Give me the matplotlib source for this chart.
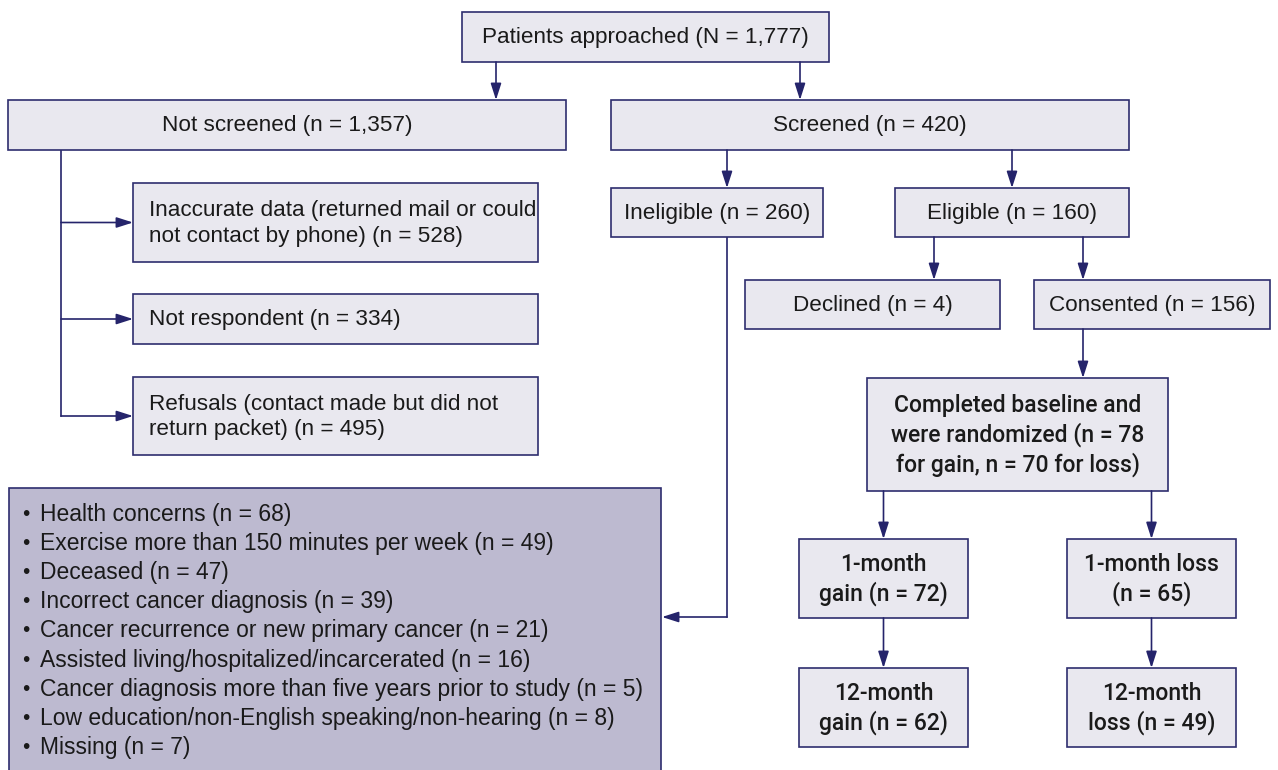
import matplotlib.pyplot as plt
from matplotlib.patches import Rectangle

# 상자 안 텍스트
top_label = "Patients approached (N = 1,777)"
level1_labels = ["Not screened (n = 1,357)", "Screened (n = 420)"]
not_screened_labels = ["Inaccurate data (returned mail or could\nnot contact by phone) (n = 528)",
                       "Not respondent (n = 334)",
                       "Refusals (contact made but did not\nreturn packet) (n = 495)"]
screen_labels = ["Ineligible (n = 260)", "Eligible (n = 160)"]
eligible_labels = ["Declined (n = 4)", "Consented (n = 156)"]
random_label = "Completed baseline and\nwere randomized (n = 78\nfor gain, n = 70 for loss)"
month1_labels = ["1-month\ngain (n = 72)", "1-month loss\n(n = 65)"]
month12_labels = ["12-month\ngain (n = 62)", "12-month\nloss (n = 49)"]
reasons = ["Health concerns", "Exercise more than 150 minutes per week", "Deceased",
           "Incorrect cancer diagnosis", "Cancer recurrence or new primary cancer",
           "Assisted living/hospitalized/incarcerated",
           "Cancer diagnosis more than five years prior to study",
           "Low education/non-English speaking/non-hearing", "Missing"]
reason_n = [68, 49, 47, 39, 21, 16, 5, 8, 7]

FILL = '#e9e8ef'
EDGE = '#2e2d6e'
ARROW = '#25246b'
PURPLE = '#bdbad0'
NARROW = dict(family=['Liberation Sans', 'DejaVu Sans'])
WIDE = dict(family=['Roboto', 'DejaVu Sans'], weight='medium')

fig = plt.figure(figsize=(12.78, 7.70), dpi=100)
ax = fig.add_axes([0, 0, 1, 1])
ax.set_xlim(0, 1278)
ax.set_ylim(770, 0)
ax.axis('off')


def box(x0, y0, x1, y1, text, font=NARROW, size=16.2, fc=FILL, ha='center'):
    ax.add_patch(Rectangle((x0, y0), x1 - x0, y1 - y0, facecolor=fc,
                           edgecolor=EDGE, linewidth=1.2, zorder=2))
    if text:
        tx = (x0 + x1) / 2 if ha == 'center' else x0 + 16
        ax.text(tx, (y0 + y1) / 2 + 1, text, ha=ha, va='center', fontsize=size,
                color='#1a1a1a', linespacing=1.3, zorder=3, **font)


def arrow(x0, y0, x1, y1):
    ax.annotate('', xy=(x1, y1), xytext=(x0, y0),
                arrowprops=dict(arrowstyle='-|>,head_length=1.0,head_width=0.32',
                                color=ARROW, lw=1.2, shrinkA=0, shrinkB=0), zorder=4)


def line(xs, ys):
    ax.plot(xs, ys, color=ARROW, lw=1.2, zorder=1)


# 맨 위
box(462, 12, 829, 62, top_label)
arrow(496, 62, 496, 100)
arrow(800, 62, 800, 100)

box(8, 100, 566, 150, level1_labels[0])
box(611, 100, 1129, 150, level1_labels[1])

# 스크리닝 안 된 환자
ys = [(183, 262), (294, 344), (377, 455)]
line([61, 61], [150, 416])
for (y0, y1), lab in zip(ys, not_screened_labels):
    arrow(61, (y0 + y1) / 2, 133, (y0 + y1) / 2)
    box(133, y0, 538, y1, lab, ha='left')

# 스크리닝
arrow(727, 150, 727, 188)
arrow(1012, 150, 1012, 188)
box(611, 188, 823, 237, screen_labels[0])
box(895, 188, 1129, 237, screen_labels[1])

arrow(934, 237, 934, 280)
arrow(1083, 237, 1083, 280)
box(745, 280, 1000, 329, eligible_labels[0])
box(1034, 280, 1270, 329, eligible_labels[1])

# 부적격 사유
line([727, 727], [237, 617])
arrow(727, 617, 662, 617)
box(9, 488, 661, 790, None, fc=PURPLE)
for i, (r, n) in enumerate(zip(reasons, reason_n)):
    yy = 514 + i * 29.2
    ax.text(22, yy, '\u2022', ha='left', va='center', fontsize=15,
            color='#1a1a1a', zorder=3, **NARROW)
    ax.text(40, yy, f"{r} (n = {n})", ha='left', va='center', fontsize=16.5,
            color='#1a1a1a', zorder=3, **NARROW)

# 무작위 배정
arrow(1083, 329, 1083, 378)
box(867, 378, 1168, 491, random_label, font=WIDE, size=16.5)
for x, l1, l12 in zip([(799, 968), (1067, 1236)], month1_labels, month12_labels):
    cx = (x[0] + x[1]) / 2
    arrow(cx, 491, cx, 539)
    box(x[0], 539, x[1], 618, l1, font=WIDE, size=16.5)
    arrow(cx, 618, cx, 668)
    box(x[0], 668, x[1], 747, l12, font=WIDE, size=16.5)

plt.savefig("out.png", dpi=100)
